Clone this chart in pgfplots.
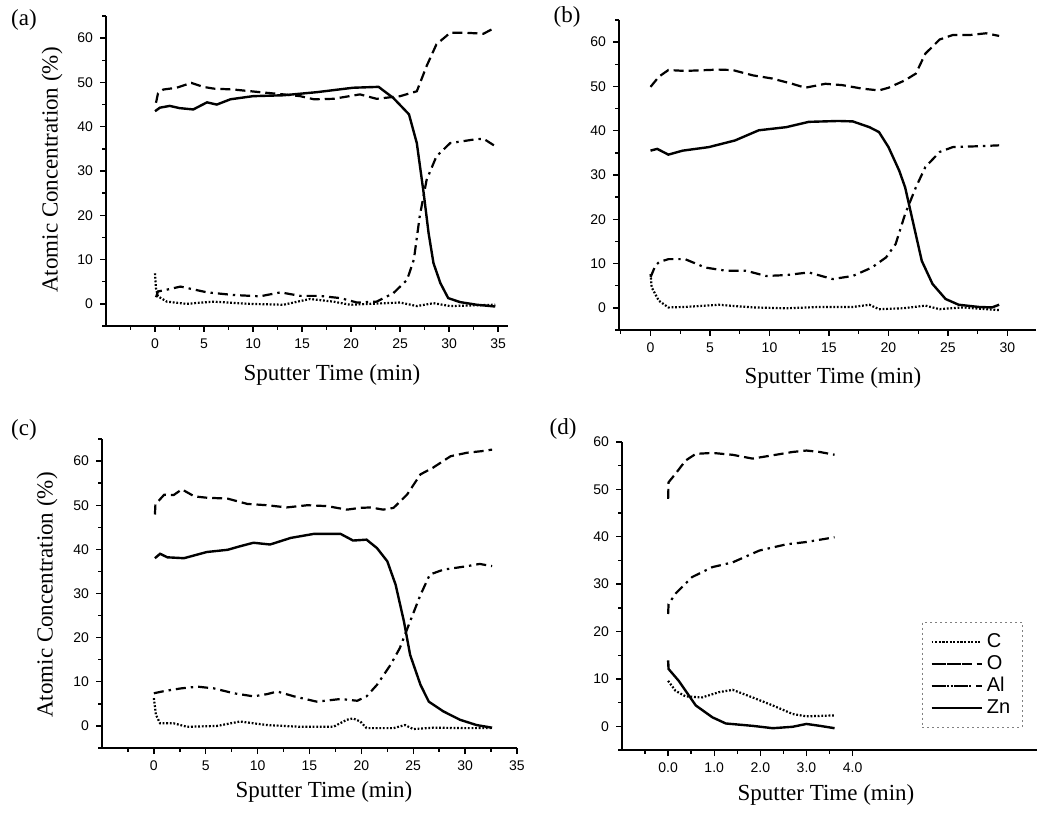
\documentclass[border=0pt]{standalone}
\usepackage{pgfplots}
\pgfplotsset{compat=1.18}
\usepackage{fontspec}
\setmainfont{Liberation Serif}
\newfontfamily\arial{Liberation Sans}

\pgfplotsset{
 panel/.style={
  scale only axis, axis lines=left, axis line style={-, line width=1pt},
  tick align=outside, major tick length=3pt, minor tick length=1.8pt,
  every tick/.style={black, line width=0.7pt},
  tick label style={font=\arial\fontsize{7}{8}\selectfont},
  /pgf/number format/assume math mode=true,
  anchor=south west, clip=false,
  ymin=-5, ymax=65, ytick={0,10,...,60}, minor ytick={-5,5,15,25,35,45,55,65},
 },
 Cs/.style={black, line width=1.1pt, dash pattern=on 0.9pt off 0.9pt},
 Os/.style={black, line width=1.1pt, dash pattern=on 5pt off 2.5pt},
 Als/.style={black, line width=1.1pt, dash pattern=on 5pt off 2.5pt on 1.2pt off 2.5pt},
 Zns/.style={black, line width=1.2pt, solid},
}

\begin{document}
\begin{tikzpicture}[x=0.5pt,y=0.5pt]
\useasboundingbox (0,0) rectangle (1038,814);

% (a)
\begin{axis}[panel, at={(53pt,244pt)}, width=201pt, height=155pt,
  xmin=-5, xmax=36, xtick={0,5,...,35},
  minor xtick={-2.5,2.5,7.5,12.5,17.5,22.5,27.5,32.5}]
\addplot[Cs] coordinates {(0,6.9)(0.1,3.5)(0.3,1.7)(1.2,0.5)(3.2,0)(5.9,0.5)(9.6,0)(13.1,-0.2)(15.8,1.1)(18.2,0.5)(19.9,-0.2)(25,0.3)(26.7,-0.5)(28.4,0.15)(30.1,-0.5)(34.7,-0.2)};
\addplot[Os] coordinates {(0.1,45.4)(0.3,47.5)(0.85,48.4)(2.2,48.8)(3.7,49.9)(4.9,49)(6,48.6)(8,48.4)(10.7,47.8)(13.1,47.3)(14.8,46.9)(16.2,46.2)(18.2,46.3)(20.9,47.3)(22.6,46.3)(25,46.9)(26.7,48)(27.7,53.7)(28.7,58.6)(30.1,61.2)(31.8,61.2)(33.5,61)(34.7,62.4)};
\addplot[Als] coordinates {(0.1,1.5)(0.3,2.8)(1,3.1)(2.6,3.9)(5.3,2.6)(8,2)(10.7,1.7)(12.8,2.6)(14.8,1.8)(16.8,1.8)(18.9,1.3)(20.6,0.3)(22.6,0.5)(24.3,2.4)(25.7,5.4)(26.4,10)(27.0,19.8)(27.7,28)(28.7,33.3)(30.1,36.3)(32.5,37.1)(33.5,37.3)(34.7,35.6)};
\addplot[Zns] coordinates {(0,43.5)(0.5,44.3)(1.5,44.7)(2.5,44.2)(3.9,43.9)(5.3,45.5)(6.3,45.0)(7.7,46.2)(10,46.9)(13.1,47.1)(16.5,47.8)(20.2,48.8)(22.8,49.0)(24.3,46.5)(25.9,42.8)(26.7,36.3)(27.4,25)(27.9,16)(28.4,9.2)(29.1,4.7)(29.9,1.3)(31.1,0.4)(32.8,-0.2)(34.7,-0.6)};
\end{axis}

% (b)
\begin{axis}[panel, at={(309.5pt,242pt)}, width=208.5pt, height=155pt,
  xmin=-2.65, xmax=32.4, xtick={0,5,...,30},
  minor xtick={-2.5,2.5,7.5,12.5,17.5,22.5,27.5,32.5}]
\addplot[Cs] coordinates {(0,7.6)(0.1,4.6)(0.7,1.6)(1.5,0.1)(2.9,0.2)(5.7,0.7)(8.6,0.1)(11.4,-0.1)(14.2,0.2)(17,0.2)(18.4,0.7)(19.2,-0.3)(21.2,-0.1)(23.1,0.5)(24.3,-0.3)(26.2,0.1)(29.3,-0.5)};
\addplot[Os] coordinates {(0,49.9)(0.7,52.2)(1.5,53.7)(2.9,53.5)(5.7,53.8)(6.9,53.7)(8.6,52.5)(10.2,51.8)(11.9,50.6)(13,49.7)(14.7,50.6)(16.1,50.3)(17.8,49.5)(19.2,49.1)(20,49.7)(21.4,51.4)(22.3,52.9)(23.1,57.4)(24.3,60.6)(25.4,61.6)(26.8,61.6)(28.2,62)(29.3,61.4)};
\addplot[Als] coordinates {(0,6.9)(0.4,9.5)(0.7,10.3)(1.5,11)(2.9,11)(4.6,9.1)(6.3,8.4)(8,8.4)(9.7,7.2)(11.4,7.4)(13.3,8)(15.3,6.5)(17,7.2)(18.6,9.1)(19.8,11.4)(20.6,14.4)(21.4,21.2)(22.3,27.2)(23.1,31.8)(24.3,35.2)(25.4,36.3)(27.6,36.5)(29.3,36.7)};
\addplot[Zns] coordinates {(0,35.5)(0.56,35.9)(1.5,34.6)(2.7,35.5)(4.9,36.3)(7.1,37.8)(9.1,40.1)(11.4,40.8)(13.3,42)(15.8,42.2)(17,42.1)(18.4,40.8)(19.2,39.7)(20,36.3)(20.9,31)(21.4,27.2)(22.1,18.9)(22.8,10.6)(23.7,5.4)(24.8,2)(25.9,0.7)(27.6,0.2)(28.7,0.1)(29.3,0.7)};
\end{axis}

% (c)
\begin{axis}[panel, at={(51pt,33pt)}, width=207.5pt, height=154.5pt,
  xmin=-5, xmax=35, xtick={0,5,...,35},
  minor xtick={-2.5,2.5,7.5,12.5,17.5,22.5,27.5,32.5}]
\addplot[Cs] coordinates {(0,6.3)(0.2,2.5)(0.6,0.6)(1.9,0.6)(3.2,-0.2)(6.1,0)(8.3,1)(10.9,0.2)(14.1,-0.2)(17.3,-0.2)(18.6,1.4)(19.2,1.7)(19.9,1)(20.5,-0.5)(23.1,-0.5)(24.2,0.2)(25,-0.7)(26.9,-0.4)(30.2,-0.5)(32.6,-0.5)};
\addplot[Os] coordinates {(0.1,47.9)(0.15,50.2)(1,52.4)(1.9,52.3)(2.7,53.6)(3.9,52)(5.1,51.7)(7.1,51.5)(9,50.3)(10.9,50)(12.8,49.5)(14.8,50)(16.7,49.8)(18.6,49)(19.9,49.4)(20.9,49.5)(22.1,49)(23.1,49.4)(24.4,52.4)(25.7,57)(26.9,58.5)(28.6,61.1)(30.2,61.9)(31.8,62.3)(32.6,62.6)};
\addplot[Als] coordinates {(0,7.4)(1,7.9)(2.6,8.5)(4.2,8.9)(5.8,8.5)(7.7,7.4)(9.6,6.7)(10.9,7.2)(11.9,7.8)(13.5,6.7)(15.7,5.5)(18,6.1)(19.6,5.7)(20.5,6.7)(21.5,9.3)(22.8,13.8)(23.7,17.6)(24.7,23.7)(25.7,29.7)(26.6,34.3)(27.9,35.4)(30.2,36.2)(31.4,36.7)(32.6,36.2)};
\addplot[Zns] coordinates {(0.1,38)(0.6,39)(1.3,38.2)(2.9,38)(5.1,39.4)(7.1,39.9)(8.3,40.7)(9.6,41.5)(11.2,41.1)(13.2,42.6)(15.4,43.5)(18,43.5)(19.2,42)(20.5,42.2)(21.5,40.3)(22.5,37.3)(23.3,32)(24.1,23.7)(24.7,16.1)(25.7,9.3)(26.5,5.5)(27.9,3.3)(29.5,1.4)(31.1,0.2)(32.6,-0.4)};
\end{axis}

% (d)
\begin{axis}[panel, at={(311pt,32pt)}, width=207.5pt, height=154pt,
  xmin=-1, xmax=8, xtick={0,1,2,3,4},
  xticklabel={\pgfmathprintnumber[fixed,fixed zerofill,precision=1]{\tick}},
  minor xtick={-0.5,0.5,1.5,2.5,3.5},
  ymin=-5, ymax=60, minor ytick={-5,5,15,25,35,45,55},
  legend style={at={(rel axis cs:0.723,0.416)}, anchor=north west,
    draw=gray, dash pattern=on 1pt off 1.5pt, line width=0.4pt,
    font=\arial\fontsize{10}{11}\selectfont,
    inner xsep=4pt, inner ysep=3.5pt, row sep=-1.5pt},
  legend cell align=left,
  legend image code/.code={\draw[#1] (2pt,0pt) -- (20pt,0pt); \path (0pt,0pt) -- (25pt,0pt);}]
\addplot[Cs] coordinates {(0,9.6)(0.16,7.5)(0.38,6.3)(0.74,6.1)(1.1,7.2)(1.4,7.7)(1.83,6.1)(2.27,4.4)(2.7,2.6)(3.0,2.1)(3.61,2.3)};
\addlegendentry{C}
\addplot[Os] coordinates {(0,48)(0.01,51.5)(0.16,53.3)(0.38,56.1)(0.6,57.5)(0.96,57.7)(1.4,57.3)(1.83,56.5)(2.27,57.2)(2.7,57.9)(3.0,58.2)(3.29,57.9)(3.61,57.3)};
\addlegendentry{O}
\addplot[Als] coordinates {(0,23.7)(0.01,25.8)(0.16,28)(0.52,31.5)(0.96,33.6)(1.4,34.6)(1.98,37.1)(2.56,38.4)(3.0,38.9)(3.61,39.9)};
\addlegendentry{Al}
\addplot[Zns] coordinates {(0,13.9)(0.01,12.1)(0.23,9.6)(0.6,4.4)(0.96,1.9)(1.25,0.6)(1.83,0.1)(2.27,-0.4)(2.7,-0.1)(3.0,0.5)(3.29,0.1)(3.61,-0.4)};
\addlegendentry{Zn}
\end{axis}

% panel letters and axis titles
\begin{scope}[every node/.style={font=\fontsize{11.5}{12}\selectfont}]
\node at (24,794) {(a)};
\node at (567,797) {(b)};
\node at (24,384) {(c)};
\node at (563,385) {(d)};
\node at (332,439) {Sputter Time (min)};
\node at (833,436) {Sputter Time (min)};
\node at (324,22) {Sputter Time (min)};
\node at (826,19) {Sputter Time (min)};
\node[rotate=90] at (52,644) {Atomic Concentration (\%)};
\node[rotate=90] at (47,219) {Atomic Concentration (\%)};
\end{scope}
\end{tikzpicture}
\end{document}
